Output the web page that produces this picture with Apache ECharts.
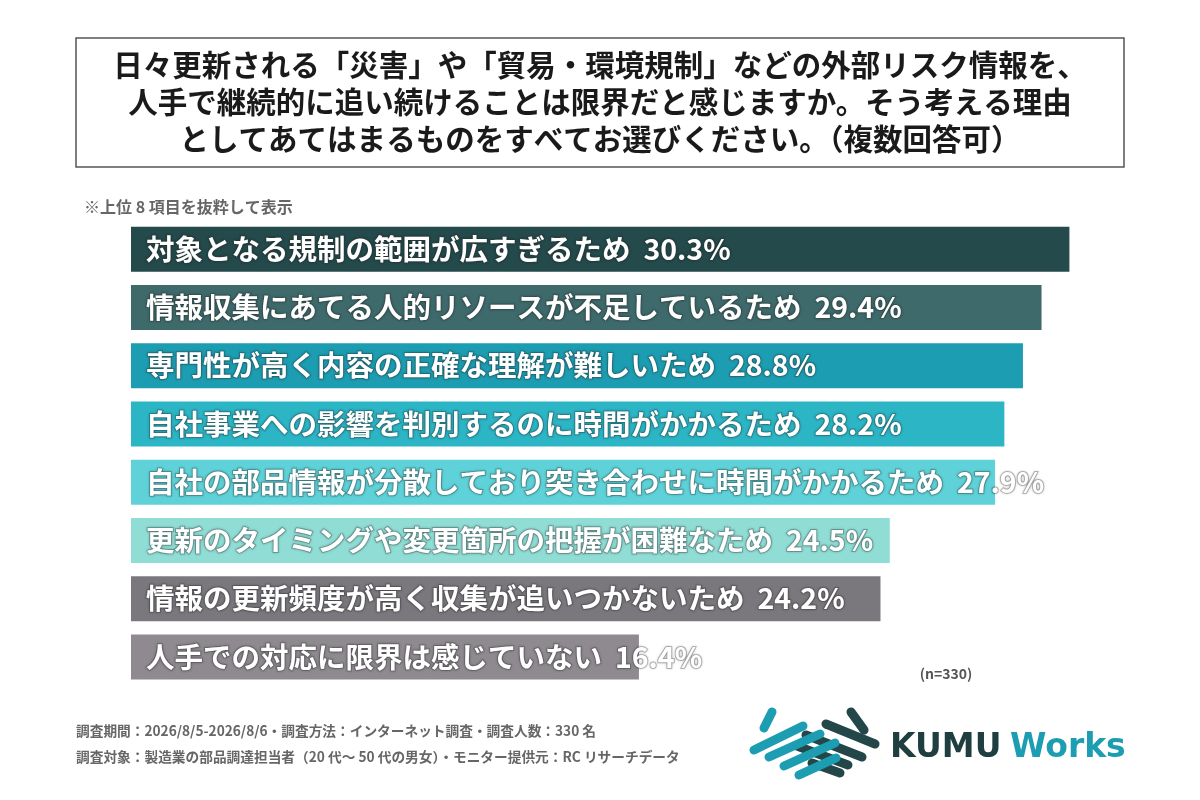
<!DOCTYPE html>
<html><head><meta charset="utf-8">
<script src="https://cdn.jsdelivr.net/npm/echarts@6/dist/echarts.min.js"></script>
<style>html,body{margin:0;padding:0;background:#fff}#c{width:1200px;height:800px}</style>
</head><body><div id="c"></div>
<script>
const categories = [
 '対象となる規制の範囲が広すぎるため',
 '情報収集にあてる人的リソースが不足しているため',
 '専門性が高く内容の正確な理解が難しいため',
 '自社事業への影響を判別するのに時間がかかるため',
 '自社の部品情報が分散しており突き合わせに時間がかかるため',
 '更新のタイミングや変更箇所の把握が困難なため',
 '情報の更新頻度が高く収集が追いつかないため',
 '人手での対応に限界は感じていない'
];
const values = [30.3, 29.4, 28.8, 28.2, 27.9, 24.5, 24.2, 16.4];
const barColors = ['#244a4b','#3e6a6b','#1d9db2','#2bb5c5','#5ed2d8','#8fddd5','#7b787d','#8e8a8f'];

const chart = echarts.init(document.getElementById('c'));
const F = '"Noto Sans CJK JP", sans-serif';
function stick(x1,y1,x2,y2,color){
  const len=Math.hypot(x2-x1,y2-y1), a=Math.atan2(y2-y1,x2-x1);
  return {type:'rect',x:x1,y:y1,rotation:-a,originX:0,originY:0,
    shape:{x:-4.5,y:-4.5,width:len+9,height:9,r:4.5},style:{fill:color},z:10};
}
const D='#234648', B='#1d9db2';
chart.setOption({
  animation:false,
  grid:{left:131,right:16,top:220,bottom:114,containLabel:false},
  xAxis:{type:'value',min:0,max:34,show:false},
  yAxis:{type:'category',inverse:true,data:categories,show:false},
  series:[{
    type:'bar',barWidth:45,
    data:values.map((v,i)=>({value:v,itemStyle:{color:barColors[i]}})),
    label:{show:true,position:'insideLeft',distance:15,color:'#fff',fontFamily:F,fontSize:28.5,fontWeight:'bold',
      textBorderColor:'rgba(60,60,60,0.3)',textBorderWidth:2,
      textShadowColor:'rgba(0,0,0,0.3)',textShadowBlur:3,
      formatter:p=>categories[p.dataIndex]+'  '+p.value.toFixed(1)+'%'}
  }],
  graphic:[
    {type:'rect',shape:{x:76,y:38,width:1048,height:129},style:{fill:'#fff',stroke:'#555',lineWidth:1.5}},
    {type:'text',x:600,y:102,style:{text:'日々更新される「災害」や「貿易・環境規制」などの外部リスク情報を、\n人手で継続的に追い続けることは限界だと感じますか。そう考える理由\nとしてあてはまるものをすべてお選びください。（複数回答可）',
      fontFamily:F,fontSize:29.5,fontWeight:'bold',fill:'#1a1a1a',align:'center',verticalAlign:'middle',lineHeight:37}},
    {type:'text',x:84,y:207,style:{text:'※上位 8 項目を抜粋して表示',fontFamily:F,fontSize:16,fontWeight:'bold',fill:'#666',verticalAlign:'middle'}},
    {type:'text',x:946,y:674,style:{text:'(n=330)',fontFamily:F,fontSize:14,fontWeight:'bold',fill:'#555',align:'center',verticalAlign:'middle'}},
    {type:'text',x:76,y:731,style:{text:'調査期間：2026/8/5-2026/8/6・調査方法：インターネット調査・調査人数：330 名',fontFamily:F,fontSize:13.7,fontWeight:'bold',fill:'#666',verticalAlign:'middle'}},
    {type:'text',x:76,y:757,style:{text:'調査対象：製造業の部品調達担当者（20 代～ 50 代の男女）・モニター提供元：RC リサーチデータ',fontFamily:F,fontSize:13.7,fontWeight:'bold',fill:'#666',verticalAlign:'middle'}},
    stick(851,712,864,730,D),
    stick(826,724,875,744,D),
    stick(806,735,862,757,D),
    stick(797,746,848,765,D),
    stick(812,763,840,773,D),
    stick(772,712,764,728,B),
    stick(754,750,803,726,B),
    stick(769,757,820,734,B),
    stick(784,766,835,743,B),
    stick(799,775,836,758,B),
    {type:'text',x:890,y:748,style:{text:'KUMU',fontFamily:'"DejaVu Sans", sans-serif',fontSize:33,fontWeight:'bold',fill:'#1f3e40',verticalAlign:'middle'}},
    {type:'text',x:1010,y:748,style:{text:'Works',fontFamily:'"DejaVu Sans", sans-serif',fontSize:33,fontWeight:'bold',fill:'#1d9db2',verticalAlign:'middle'}}
  ]
});
</script></body></html>
